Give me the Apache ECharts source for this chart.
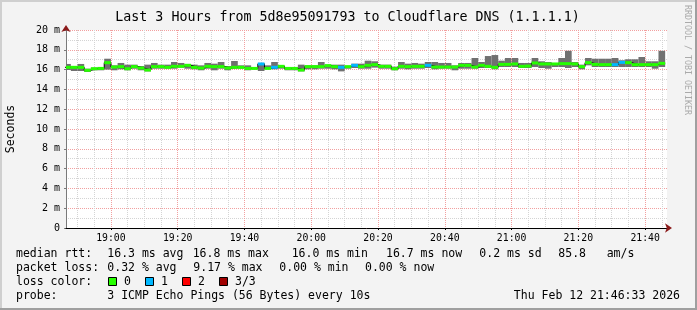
<!DOCTYPE html>
<html><head><meta charset="utf-8">
<script src="https://cdn.jsdelivr.net/npm/echarts@6/dist/echarts.min.js"></script>
<style>html,body{margin:0;padding:0;background:#f3f3f3}#c{width:697px;height:310px}</style>
</head><body><div id="c"></div>
<script>
// ---- data (minutes since midnight; values in ms) ----
const axisStart = 18 * 60 + 46 + 33 / 60;   // 18:46:33
const axisEnd = 21 * 60 + 46 + 33 / 60;     // 21:46:33
const firstStep = 18 * 60 + 46;             // 18:46
const stepMin = 2;
const majorTicks = [1140, 1160, 1180, 1200, 1220, 1240, 1260, 1280, 1300];
const minorTicks = [1130,1135,1140,1145,1150,1155,1160,1165,1170,1175,1180,1185,1190,1195,1200,1205,1210,1215,1220,1225,1230,1235,1240,1245,1250,1255,1260,1265,1270,1275,1280,1285,1290,1295,1300,1305];
const smokeLo = [15.96,15.86,15.86,15.76,15.93,15.93,16.00,15.93,16.03,15.93,16.09,15.93,15.82,16.09,16.09,16.09,16.09,16.20,16.09,16.03,15.93,16.09,15.93,16.09,15.93,16.09,16.09,15.93,16.03,15.86,16.09,16.03,16.09,15.93,15.93,15.82,16.03,16.03,16.09,16.09,16.03,15.82,16.09,16.16,16.09,16.09,16.20,16.09,16.09,15.93,16.09,16.03,16.09,16.09,16.16,16.03,16.09,16.09,15.93,16.09,16.09,16.09,16.16,16.16,16.03,16.26,16.26,16.26,16.16,16.16,16.26,16.16,16.09,16.26,16.26,16.16,16.26,16.03,16.43,16.26,16.26,16.26,16.26,16.26,16.26,16.26,16.26,16.26,16.09,16.26];
const smokeHi = [16.57,16.36,16.57,16.09,16.20,16.26,17.10,16.43,16.67,16.50,16.50,16.36,16.50,16.67,16.50,16.50,16.77,16.67,16.57,16.50,16.43,16.67,16.60,16.77,16.36,16.87,16.43,16.43,16.26,16.67,16.43,16.77,16.43,16.26,16.26,16.50,16.43,16.43,16.77,16.50,16.50,16.50,16.36,16.60,16.60,16.90,16.84,16.50,16.50,16.30,16.77,16.60,16.67,16.60,16.77,16.77,16.67,16.67,16.43,16.67,16.67,17.17,16.77,17.37,17.47,16.90,17.17,17.17,16.67,16.67,17.17,16.84,16.77,16.67,17.17,17.90,16.77,16.50,17.17,17.10,17.10,17.10,17.17,16.94,17.04,17.04,17.27,16.84,16.84,17.90];
const median = [16.23,16.23,16.23,15.93,16.09,16.12,16.70,16.26,16.30,16.09,16.30,16.16,15.96,16.30,16.30,16.23,16.33,16.33,16.43,16.23,16.16,16.33,16.30,16.30,16.16,16.23,16.23,16.12,16.12,16.57,16.12,16.23,16.33,16.12,16.12,15.96,16.30,16.30,16.30,16.40,16.30,16.23,16.30,16.43,16.30,16.43,16.50,16.33,16.33,16.09,16.33,16.30,16.33,16.33,16.43,16.26,16.26,16.26,16.26,16.43,16.43,16.26,16.43,16.33,16.23,16.53,16.53,16.57,16.33,16.36,16.67,16.57,16.57,16.57,16.60,16.60,16.57,16.30,16.70,16.53,16.50,16.50,16.50,16.73,16.70,16.50,16.50,16.50,16.50,16.63];
const loss = [0,0,0,0,0,0,0,0,0,0,0,0,0,0,0,0,0,0,0,0,0,0,0,0,0,0,0,0,0,1,0,1,0,0,0,0,0,0,0,0,0,1,0,1,0,0,0,0,0,0,0,0,0,0,1,0,0,0,0,0,0,0,0,0,0,0,0,0,0,0,0,0,0,0,0,0,0,0,0,0,0,0,1,1,0,0,0,0,0,0];
const lossColors = ['#26ff00', '#00b8ff', '#ff0000', '#a00000'];
const lossLabels = ['0', '1', '2', '3/3'];

const titleText = 'Last 3 Hours from 5d8e95091793 to Cloudflare DNS (1.1.1.1)';

// ---- build ----
const rows = median.map((m, i) => {
  const s = firstStep + i * stepMin;
  return [s, s + stepMin, smokeLo[i], smokeHi[i], m, loss[i]];
});
const medLine = rows.map(r => [r[0], r[4]]);
medLine.push([rows[rows.length - 1][1], rows[rows.length - 1][4]]);

const MONO = "'DejaVu Sans Mono', monospace";
const ARROW = '#8b1a1a';
function hhmm(v) {
  const h = Math.floor(v / 60), m = Math.round(v - h * 60);
  return String(h).padStart(2, '0') + ':' + String(m).padStart(2, '0');
}
function clipRect(r, params) {
  return echarts.graphic.clipRectByRect(r, {
    x: params.coordSys.x, y: params.coordSys.y,
    width: params.coordSys.width, height: params.coordSys.height
  });
}

const chart = echarts.init(document.getElementById('c'), null, { renderer: 'canvas' });

const txt = (x, y, text, extra) => ({
  type: 'text', x: x, y: y,
  style: Object.assign({ text: text, font: '11.5px ' + MONO, fill: '#000', textVerticalAlign: 'middle' }, extra || {})
});

const legendGraphics = [
  { type: 'rect', shape: { x: 0, y: 0, width: 697, height: 310 }, style: { fill: '#f3f3f3' }, z: -10 },
  { type: 'rect', shape: { x: 0, y: 0, width: 697, height: 2 }, style: { fill: '#cfcfcf' }, z: -9 },
  { type: 'rect', shape: { x: 0, y: 0, width: 2, height: 310 }, style: { fill: '#cfcfcf' }, z: -9 },
  { type: 'rect', shape: { x: 695, y: 0, width: 2, height: 310 }, style: { fill: '#9f9f9f' }, z: -9 },
  { type: 'rect', shape: { x: 0, y: 308, width: 697, height: 2 }, style: { fill: '#9f9f9f' }, z: -9 },
  { type: 'text', x: 347.5, y: 18, style: { text: titleText, font: '13.3px ' + MONO, fill: '#000', textAlign: 'center', textVerticalAlign: 'middle' } },
  { type: 'text', x: 687.5, y: 5, rotation: -Math.PI / 2, style: { text: 'RRDTOOL / TOBI OETIKER', font: '8.3px ' + MONO, fill: '#aaaaaa', textAlign: 'left', textVerticalAlign: 'middle' } },
  txt(16, 254, 'median rtt:'), txt(107.3, 254, '16.3 ms avg'), txt(192.7, 254, '16.8 ms max'),
  txt(291.7, 254, '16.0 ms min'), txt(386, 254, '16.7 ms now'), txt(479.3, 254, '0.2 ms sd'),
  txt(558.3, 254, '85.8'), txt(606.7, 254, 'am/s'),
  txt(16, 268, 'packet loss:'), txt(107.3, 268, '0.32 % avg'), txt(193.3, 268, '9.17 % max'),
  txt(279.3, 268, '0.00 % min'), txt(365, 268, '0.00 % now'),
  txt(16, 282, 'loss color:'),
  txt(16, 296, 'probe:'), txt(107.3, 296, '3 ICMP Echo Pings (56 Bytes) every 10s'),
  txt(680, 296, 'Thu Feb 12 21:46:33 2026', { textAlign: 'right' })
];
const swatchX = [108.5, 145.5, 182.5, 219.5];
lossColors.forEach((c, i) => {
  legendGraphics.push({ type: 'rect', shape: { x: swatchX[i], y: 277.5, width: 8, height: 8 }, style: { fill: c, stroke: '#000', lineWidth: 1 } });
  legendGraphics.push(txt(swatchX[i] + 15.5, 282, lossLabels[i]));
});

const option = {
  animation: false,
  backgroundColor: '#f3f3f3',
  textStyle: { fontFamily: MONO },
  grid: { left: 66, right: 30, top: 30, bottom: 82, containLabel: false, outerBoundsMode: 'none', show: true, backgroundColor: '#ffffff', borderWidth: 0 },
  graphic: legendGraphics,
  xAxis: [
    {
      type: 'value', min: axisStart, max: axisEnd, position: 'bottom',
      axisLine: { show: true, lineStyle: { color: '#000', width: 1 } },
      axisTick: { show: true, length: 2, inside: false, lineStyle: { color: '#000' }, customValues: majorTicks },
      axisLabel: { show: true, customValues: majorTicks, formatter: hhmm, color: '#000', fontSize: 9.8, fontFamily: MONO, margin: 5 },
      splitLine: { show: true, lineStyle: { color: '#f2a0a0', type: [1, 1], width: 1 } },
      z: 3
    },
    {
      type: 'value', min: axisStart, max: axisEnd, position: 'bottom', gridIndex: 0,
      axisLine: { show: false }, axisLabel: { show: false },
      axisTick: { show: false, customValues: minorTicks },
      splitLine: { show: true, lineStyle: { color: '#d4d4d4', type: [1, 1], width: 1 } },
      z: 1
    },
    {
      type: 'value', min: axisStart, max: axisEnd, position: 'bottom', gridIndex: 0,
      axisLine: { show: true, lineStyle: { color: ARROW, width: 0 }, symbol: ['none', 'arrow'], symbolSize: [7, 7], symbolOffset: [0, 5] },
      axisLabel: { show: false }, axisTick: { show: false }, splitLine: { show: false },
      z: 4
    }
  ],
  yAxis: [
    {
      type: 'value', min: 0, max: 20, interval: 2,
      name: 'Seconds', nameLocation: 'middle', nameGap: 49, nameRotate: 90,
      nameTextStyle: { fontFamily: MONO, fontSize: 11.5, color: '#000' },
      axisLine: { show: true, lineStyle: { color: '#7a7a7a' } },
      axisTick: { show: true, length: 2, lineStyle: { color: '#7a7a7a' } },
      axisLabel: { formatter: v => (v === 0 ? '0' : v + ' m'), color: '#000', fontSize: 10, fontFamily: MONO, margin: 6 },
      splitLine: { show: true, lineStyle: { color: '#f2a0a0', type: [1, 1], width: 1 } },
      minorTick: { show: false, splitNumber: 2 },
      minorSplitLine: { show: true, lineStyle: { color: '#d4d4d4', type: [1, 1], width: 1 } }
    },
    {
      type: 'value', min: 0, max: 20, interval: 2, position: 'left', gridIndex: 0,
      axisLine: { show: true, onZero: false, lineStyle: { color: ARROW, width: 0 }, symbol: ['none', 'arrow'], symbolSize: [7, 7], symbolOffset: [0, 5] },
      axisLabel: { show: false }, axisTick: { show: false }, splitLine: { show: false },
      z: 4
    }
  ],
  series: [
    {
      type: 'custom', name: 'smoke', xAxisIndex: 0, yAxisIndex: 0, z: 2,
      data: rows,
      renderItem: (params, api) => {
        const p1 = api.coord([api.value(0), api.value(3)]);
        const p2 = api.coord([api.value(1), api.value(2)]);
        const r = clipRect({ x: p1[0], y: p1[1], width: p2[0] - p1[0], height: p2[1] - p1[1] }, params);
        return r && { type: 'rect', shape: r, style: { fill: '#707070' } };
      }
    },
    {
      type: 'line', name: 'median', xAxisIndex: 0, yAxisIndex: 0, z: 3, step: 'end', symbol: 'none',
      data: medLine, lineStyle: { color: '#000', width: 1 }
    },
    {
      type: 'custom', name: 'medianband', xAxisIndex: 0, yAxisIndex: 0, z: 4,
      data: rows,
      renderItem: (params, api) => {
        const p1 = api.coord([api.value(0), api.value(4)]);
        const p2 = api.coord([api.value(1), api.value(4)]);
        const r = clipRect({ x: p1[0], y: p1[1] - 1.5, width: p2[0] - p1[0], height: 3 }, params);
        return r && { type: 'rect', shape: r, style: { fill: lossColors[api.value(5)] } };
      }
    }
  ]
};
chart.setOption(option);
</script></body></html>
